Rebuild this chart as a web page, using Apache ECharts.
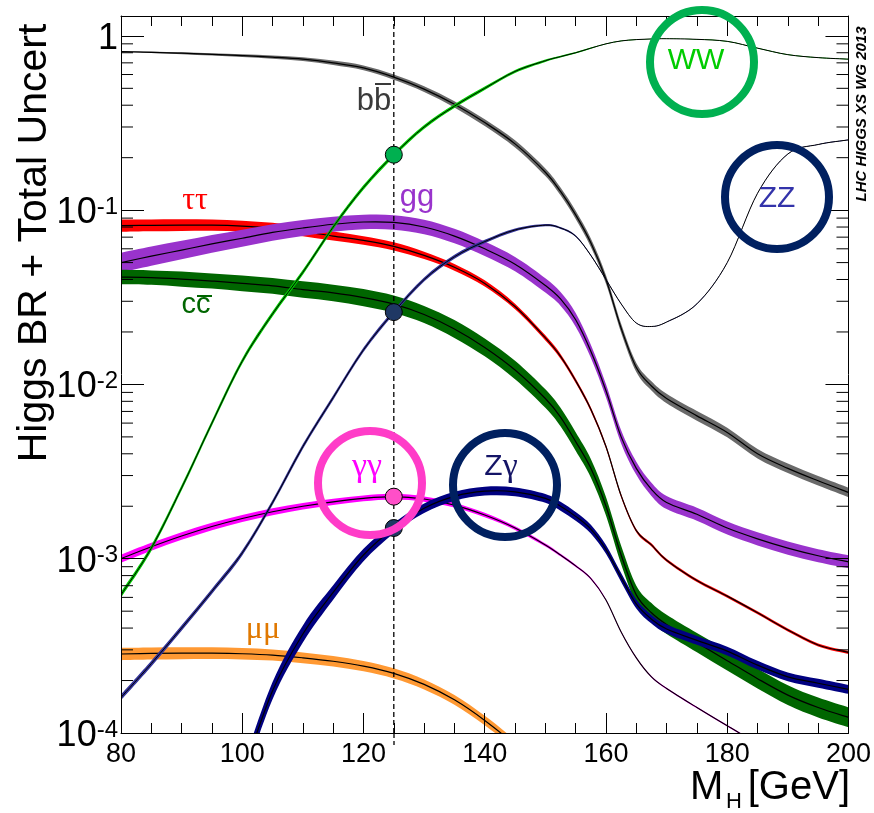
<!DOCTYPE html>
<html><head><meta charset="utf-8">
<script src="https://cdn.jsdelivr.net/npm/echarts@6/dist/echarts.min.js"></script>
<style>html,body{margin:0;padding:0;background:#fff}#c{width:874px;height:813px}</style>
</head><body><div id="c"></div>
<script>
// ---------------- data ----------------
const masses = [80,85,90,95,100,105,110,115,120,125,130,135,140,145,150,152.5,155,157.5,160,162.5,165,167.5,170,175,180,185,190,195,200];

const brBB  = [0.813,0.805,0.795,0.783,0.770,0.755,0.735,0.700,0.655,0.580,0.495,0.405,0.318,0.240,0.165,0.128,0.094,0.065,0.040,0.021,0.0125,0.0098,0.0083,0.0066,0.0053,0.0040,0.0033,0.0028,0.0024];
const uncBB = [0.008,0.010,0.012,0.015,0.018,0.022,0.026,0.030,0.033,0.036,0.039,0.042,0.045,0.048,0.051,0.053,0.055,0.057,0.059,0.061,0.062,0.063,0.064,0.065,0.065,0.065,0.065,0.065,0.065];

const brTT  = [0.0815,0.0818,0.0820,0.0820,0.0810,0.0790,0.0755,0.0710,0.0670,0.0620,0.0550,0.0470,0.0380,0.0280,0.0185,0.0145,0.0105,0.0072,0.0044,0.0023,0.00145,0.0012,0.00098,0.00075,0.00061,0.00049,0.00039,0.00032,0.00029];
const uncTT = [0.085,0.082,0.080,0.077,0.073,0.070,0.066,0.062,0.058,0.055,0.050,0.046,0.042,0.038,0.034,0.032,0.030,0.028,0.026,0.024,0.022,0.021,0.020,0.020,0.020,0.020,0.020,0.020,0.020];

const brGG  = [0.050,0.0545,0.059,0.064,0.069,0.0745,0.079,0.083,0.0855,0.085,0.080,0.071,0.060,0.049,0.037,0.031,0.0235,0.0155,0.0092,0.0050,0.0033,0.0025,0.0021,0.0018,0.0015,0.0013,0.00115,0.00104,0.00096];
const uncGG = [0.14,0.135,0.13,0.125,0.12,0.115,0.11,0.105,0.10,0.10,0.10,0.10,0.10,0.10,0.10,0.095,0.095,0.09,0.09,0.09,0.09,0.09,0.09,0.09,0.09,0.09,0.09,0.09,0.09];

const brCC  = [0.0413,0.0410,0.0402,0.0392,0.0380,0.0368,0.0350,0.0335,0.0315,0.0289,0.0252,0.0208,0.0163,0.0121,0.0083,0.0065,0.0047,0.0033,0.0020,0.00105,0.00062,0.00049,0.00042,0.00033,0.00026,0.000205,0.000165,0.00014,0.000123];
const uncCC = [0.10,0.10,0.105,0.105,0.11,0.11,0.115,0.115,0.12,0.12,0.12,0.125,0.125,0.13,0.13,0.13,0.13,0.13,0.13,0.13,0.13,0.135,0.135,0.135,0.14,0.14,0.14,0.14,0.14];

const brWW  = [0.00062,0.00115,0.00255,0.0060,0.0136,0.0254,0.044,0.080,0.135,0.208,0.30,0.395,0.50,0.625,0.72,0.76,0.80,0.85,0.90,0.935,0.952,0.96,0.963,0.955,0.93,0.85,0.78,0.75,0.735];
const uncWW = [0.038,0.038,0.037,0.036,0.035,0.034,0.033,0.032,0.031,0.03,0.028,0.026,0.023,0.02,0.016,0.013,0.01,0.008,0.006,0.005,0.004,0.004,0.004,0.004,0.004,0.004,0.004,0.004,0.004];

const brZZ  = [0.00016,0.00025,0.00040,0.00065,0.00108,0.0021,0.0044,0.0084,0.0158,0.026,0.040,0.054,0.066,0.077,0.082,0.079,0.071,0.055,0.040,0.029,0.0225,0.0215,0.0228,0.029,0.050,0.125,0.21,0.238,0.253];
const uncZZ = [0.038,0.038,0.037,0.036,0.035,0.034,0.033,0.032,0.031,0.03,0.028,0.026,0.023,0.02,0.016,0.013,0.01,0.008,0.006,0.005,0.004,0.004,0.004,0.004,0.004,0.004,0.004,0.004,0.004];

const brAA  = [0.00100,0.00117,0.00135,0.00153,0.00170,0.00186,0.00200,0.00212,0.00222,0.00227,0.00220,0.00203,0.00178,0.00150,0.00120,0.00105,0.00091,0.00077,0.00058,0.00038,0.00027,0.00021,0.00018,0.00014,0.00011,0.000087,0.000070,0.000060,0.000053];
const uncAA = [0.055,0.054,0.052,0.05,0.048,0.046,0.044,0.042,0.04,0.038,0.035,0.033,0.03,0.025,0.02,0.017,0.015,0.012,0.01,0.01,0.01,0.01,0.01,0.01,0.01,0.01,0.01,0.01,0.01];

const brZA  = [null,null,null,null,0.000057,0.000175,0.00037,0.00064,0.00105,0.00150,0.00195,0.00228,0.00244,0.00242,0.00222,0.00200,0.00175,0.00148,0.00113,0.00078,0.00055,0.00045,0.000395,0.00034,0.000295,0.000245,0.00021,0.000193,0.000178];
const uncZA = [null,null,null,null,0.12,0.12,0.12,0.10,0.085,0.07,0.065,0.062,0.06,0.06,0.06,0.06,0.06,0.06,0.06,0.06,0.06,0.06,0.06,0.06,0.06,0.06,0.06,0.06,0.06];

const brMM  = [0.000284,0.000286,0.000287,0.000287,0.000285,0.000280,0.000270,0.000258,0.000242,0.000220,0.000190,0.000155,0.000118,0.000085,0.000055,null,null,null,null,null,null,null,null,null,null,null,null,null,null];
const uncMM = [0.085,0.083,0.082,0.08,0.078,0.076,0.074,0.072,0.071,0.07,0.068,0.066,0.064,0.062,0.06,null,null,null,null,null,null,null,null,null,null,null,null,null,null];

const MH_REF = 125;
const xTicks = {min: 80, max: 200, step: 20};
const yRange = {min: 1e-4, max: 1.3};
const minorMult = [2,3,4,5,6,7,8,9];
const decades = [1e-4,1e-3,1e-2,1e-1];

// ---------------- chart ----------------
const FONT = "'Liberation Sans', Arial, Helvetica, sans-serif";
const SERIF = "'Liberation Serif', 'DejaVu Serif', serif";
const chart = echarts.init(document.getElementById('c'), null, {renderer: 'canvas'});

function crPath(pts){
  let d = '';
  for (let i = 0; i < pts.length - 1; i++){
    const p0 = pts[i-1] || pts[i], p1 = pts[i], p2 = pts[i+1], p3 = pts[i+2] || pts[i+1];
    const c1 = [p1[0] + (p2[0]-p0[0])/6, p1[1] + (p2[1]-p0[1])/6];
    const c2 = [p2[0] - (p3[0]-p1[0])/6, p2[1] - (p3[1]-p1[1])/6];
    d += ' C' + c1[0].toFixed(2) + ' ' + c1[1].toFixed(2) + ' ' + c2[0].toFixed(2) + ' ' + c2[1].toFixed(2) + ' ' + p2[0].toFixed(2) + ' ' + p2[1].toFixed(2);
  }
  return d;
}

function bandSeries(name, vals, unc, color, lineW){
  let i0 = vals.findIndex(v => v != null);
  return {
    type: 'custom', name: name, coordinateSystem: 'cartesian2d', clip: true, silent: true,
    data: [[masses[i0], vals[i0]]],
    renderItem: function(params, api){
      const up = [], lo = [], mid = [];
      for (let i = 0; i < masses.length; i++){
        if (vals[i] == null) continue;
        up.push(api.coord([masses[i], vals[i]*(1+unc[i])]));
        lo.push(api.coord([masses[i], vals[i]/(1+unc[i])]));
        mid.push(api.coord([masses[i], vals[i]]));
      }
      const loR = lo.slice().reverse();
      const band = 'M' + up[0][0] + ' ' + up[0][1] + crPath(up) + ' L' + loR[0][0] + ' ' + loR[0][1] + crPath(loR) + ' Z';
      const line = 'M' + mid[0][0] + ' ' + mid[0][1] + crPath(mid);
      return {type: 'group', children: [
        {type: 'path', shape: {pathData: band}, style: {fill: color, stroke: null}},
        {type: 'path', shape: {pathData: line}, style: {fill: null, stroke: '#000', lineWidth: lineW || 1.2}}
      ]};
    }
  };
}

function yFmt(v){
  const l = Math.log10(v), e = Math.round(l);
  if (Math.abs(l - e) > 1e-6) return '';
  if (e === 0) return '{b|1}';
  return '{b|10}{s|' + e + '}';
}

const axisCommonX = {
  type: 'value', min: xTicks.min, max: xTicks.max, interval: xTicks.step, z: 10,
  axisLine: {show: true, lineStyle: {color: '#000', width: 1}},
  axisTick: {show: true, inside: true, length: 20, lineStyle: {color: '#000', width: 1}},
  minorTick: {show: true, splitNumber: 4, length: 10, lineStyle: {color: '#000', width: 1}},
  splitLine: {show: false}, minorSplitLine: {show: false}
};
const axisCommonY = {
  type: 'log', logBase: 10, min: yRange.min, max: yRange.max, z: 10,
  axisLine: {show: true, lineStyle: {color: '#000', width: 1}},
  axisTick: {show: true, inside: true, length: 23, lineStyle: {color: '#000', width: 1}},
  splitLine: {show: false}
};

const minorData = [];
decades.forEach(d => minorMult.forEach(m => minorData.push([xTicks.min, d*m])));

const idx125 = masses.indexOf(MH_REF);

const series = [
  bandSeries('tautau', brTT, uncTT, '#ff0000'),
  bandSeries('gg', brGG, uncGG, '#9933cc'),
  bandSeries('cc', brCC, uncCC, '#006600'),
  bandSeries('bb', brBB, uncBB, '#6a6a6a'),
  bandSeries('mumu', brMM, uncMM, '#ff9933'),
  bandSeries('gamgam', brAA, uncAA, '#ff00ff', 1.1),
  bandSeries('Zgam', brZA, uncZA, '#000080'),
  bandSeries('WW', brWW, uncWW, '#00cc00', 1),
  bandSeries('ZZ', brZZ, uncZZ, '#333399', 1),
  {
    type: 'custom', name: 'minorTicksY', coordinateSystem: 'cartesian2d', silent: true, z: 11,
    data: minorData,
    renderItem: function(params, api){
      const v = api.value(1);
      const pL = api.coord([xTicks.min, v]);
      const pR = api.coord([xTicks.max, v]);
      return {type: 'group', children: [
        {type: 'line', shape: {x1: pL[0], y1: pL[1], x2: pL[0] + 12, y2: pL[1]}, style: {stroke: '#000', lineWidth: 1}},
        {type: 'line', shape: {x1: pR[0], y1: pR[1], x2: pR[0] - 12, y2: pR[1]}, style: {stroke: '#000', lineWidth: 1}}
      ]};
    }
  },
  {
    type: 'line', name: 'mH', silent: true, symbol: 'none',
    data: [[MH_REF, yRange.min], [MH_REF, yRange.max]],
    lineStyle: {color: '#000', width: 1.3, type: [5, 3]}
  },
  {
    type: 'scatter', name: 'dots', symbolSize: 17, silent: true, z: 5,
    itemStyle: {borderColor: '#000', borderWidth: 1, opacity: 1},
    data: [
      {value: [MH_REF, brWW[idx125]], itemStyle: {color: '#00b050', opacity: 1}},
      {value: [MH_REF, brZZ[idx125]], itemStyle: {color: '#1f3864', opacity: 1}},
      {value: [MH_REF, brAA[idx125]], itemStyle: {color: '#ff4fc8', opacity: 1}},
      {value: [MH_REF, brZA[idx125]], itemStyle: {color: '#1f3864', opacity: 1}}
    ]
  }
];

function circle(cx, cy, color){
  return {type: 'circle', z: 100, shape: {cx: cx, cy: cy, r: 52}, style: {fill: null, stroke: color, lineWidth: 8}};
}
function label(x, y, text, size, color, family){
  return {type: 'text', z: 101, x: x, y: y, style: {text: text, fontSize: size, fontFamily: family || FONT, fill: color, align: 'center', verticalAlign: 'middle'}};
}

const graphics = [
  // axis titles
  {type: 'text', z: 101, x: 35, y: 243, rotation: Math.PI/2, style: {text: 'Higgs BR + Total Uncert', fontSize: 41, fontFamily: FONT, fill: '#000', align: 'center', verticalAlign: 'middle'}},
  {type: 'text', z: 101, x: 690, y: 788, style: {text: 'M', fontSize: 40, fontFamily: FONT, fill: '#000', align: 'left', verticalAlign: 'middle'}},
  {type: 'text', z: 101, x: 726, y: 802, style: {text: 'H', fontSize: 22, fontFamily: FONT, fill: '#000', align: 'left', verticalAlign: 'middle'}},
  {type: 'text', z: 101, x: 850, y: 788, style: {text: '[GeV]', fontSize: 40, fontFamily: FONT, fill: '#000', align: 'right', verticalAlign: 'middle'}},
  {type: 'text', z: 101, x: 862, y: 114, rotation: Math.PI/2, style: {text: 'LHC HIGGS XS WG 2013', fontSize: 15, fontStyle: 'italic', fontWeight: 'bold', fontFamily: FONT, fill: '#000', align: 'center', verticalAlign: 'middle'}},
  // dashed reference line continues a little below the frame
  {type: 'line', z: 101, shape: {x1: 394, y1: 733, x2: 394, y2: 745}, style: {stroke: '#000', lineWidth: 1.3, lineDash: [5, 3]}},
  // circles
  circle(702, 62, '#00b050'),
  circle(777, 197, '#002060'),
  circle(370, 483, '#ff3cc8'),
  circle(505, 485, '#002060'),
  // channel labels
  label(696, 61, 'WW', 30, '#00cc00'),
  label(777, 199, 'ZZ', 30, '#3333aa'),
  label(374, 101, 'bb', 31, '#3a3a3a'),
  {type: 'line', z: 101, shape: {x1: 375, y1: 84, x2: 391, y2: 84}, style: {stroke: '#3a3a3a', lineWidth: 2}},
  label(417, 197, 'gg', 31, '#9933cc'),
  label(195, 201, 'ττ', 32, '#ff0000', SERIF),
  label(196, 305, 'cc', 29, '#006600'),
  {type: 'line', z: 101, shape: {x1: 197, y1: 296, x2: 212, y2: 296}, style: {stroke: '#006600', lineWidth: 2}},
  label(367, 467, 'γγ', 34, '#ff00ff', SERIF),
  {type: 'text', z: 101, x: 501, y: 467, style: {text: '{z|Z}{g|γ}', align: 'center', verticalAlign: 'middle',
    rich: {z: {fontSize: 30, fontFamily: FONT, fill: '#141466'}, g: {fontSize: 34, fontFamily: SERIF, fill: '#141466'}}}},
  label(263, 630, 'μμ', 32, '#e07800', SERIF)
];

chart.setOption({
  animation: false,
  backgroundColor: '#fff',
  grid: {left: 121, top: 16, width: 728, height: 717, containLabel: false},
  xAxis: [
    Object.assign({}, axisCommonX, {position: 'bottom',
      axisLabel: {show: true, fontSize: 27, fontFamily: FONT, color: '#000', margin: 8}}),
    Object.assign({}, axisCommonX, {position: 'top', axisLabel: {show: false}})
  ],
  yAxis: [
    Object.assign({}, axisCommonY, {position: 'left',
      axisLabel: {show: true, margin: 3, formatter: yFmt, showMaxLabel: false, padding: [6, 0, 0, 0],
        rich: {
          b: {fontSize: 36, fontFamily: FONT, color: '#000', verticalAlign: 'bottom', lineHeight: 36},
          s: {fontSize: 24, fontFamily: FONT, color: '#000', verticalAlign: 'top', lineHeight: 24}
        }}}),
    Object.assign({}, axisCommonY, {position: 'right', axisLabel: {show: false}})
  ],
  series: series,
  graphic: {elements: graphics}
});
</script>
</body></html>
